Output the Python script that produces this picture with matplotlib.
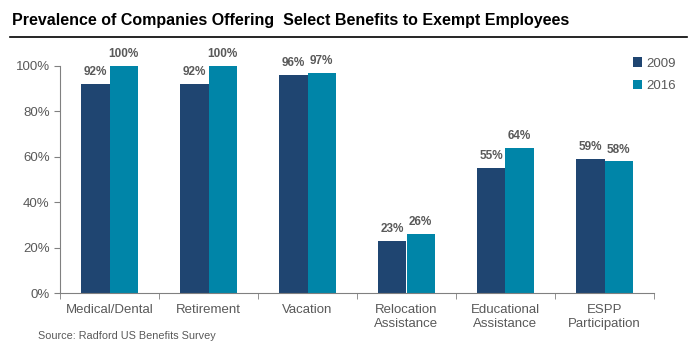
import matplotlib.pyplot as plt
import numpy as np

categories = ["Medical/Dental", "Retirement", "Vacation", "Relocation\nAssistance",
              "Educational\nAssistance", "ESPP\nParticipation"]
years = ["2009", "2016"]
values_2009 = [92, 92, 96, 23, 55, 59]
values_2016 = [100, 100, 97, 26, 64, 58]

colors = ["#1F4571", "#0085A8"]
grey = "#595959"

plt.rcParams['font.family'] = ['Liberation Sans', 'DejaVu Sans']

fig = plt.figure(figsize=(6.99, 3.64), dpi=100)
ax = fig.add_axes([60 / 699, 1 - 293 / 364, 594 / 699, 227 / 364])

x = np.arange(len(categories))
w = 0.283
for i, (vals, label) in enumerate(zip([values_2009, values_2016], years)):
    pos = x + (i - 0.5) * w
    ax.bar(pos, vals, w, color=colors[i], label=label, zorder=2)
    for p, v in zip(pos, vals):
        ax.text(p, v + 2.5, f"{v}%", ha='center', va='bottom', fontsize=8.5,
                fontweight='bold', color=grey)

ax.set_xlim(-0.5, len(categories) - 0.5)
ax.set_ylim(0, 100)
ax.set_yticks(range(0, 101, 20))
ax.set_yticklabels([f"{t}%" for t in range(0, 101, 20)], fontsize=9.5, color=grey)
ax.set_xticks(x)
ax.set_xticklabels(categories, fontsize=9.5, color=grey)
ax.tick_params(axis='x', length=0, pad=8)
ax.set_xticks(np.arange(-0.5, len(categories)), minor=True)
ax.tick_params(axis='x', which='minor', length=4, color='#808080')
ax.tick_params(axis='y', length=4, color='#808080')

for s in ['top', 'right']:
    ax.spines[s].set_visible(False)
ax.spines['left'].set_color('#808080')
ax.spines['bottom'].set_color('#808080')

leg = ax.legend(loc='upper left', bbox_to_anchor=(0.945, 1.09), frameon=False,
                fontsize=9.5, handlelength=0.7, handleheight=0.7, handletextpad=0.3,
                labelspacing=0.75)
for t in leg.get_texts():
    t.set_color(grey)

fig.text(12 / 699, 1 - 21 / 364, "Prevalence of Companies Offering  Select Benefits to Exempt Employees",
         fontsize=11.5, fontweight='bold', va='center', ha='left', color='black')
fig.add_artist(plt.Line2D([10 / 699, 687 / 699], [1 - 37 / 364, 1 - 37 / 364],
                          color='black', lw=1.2))
fig.text(38 / 699, 1 - 336 / 364, "Source: Radford US Benefits Survey",
         fontsize=7.8, color=grey, va='center', ha='left')

fig.savefig("out.png", dpi=100)
